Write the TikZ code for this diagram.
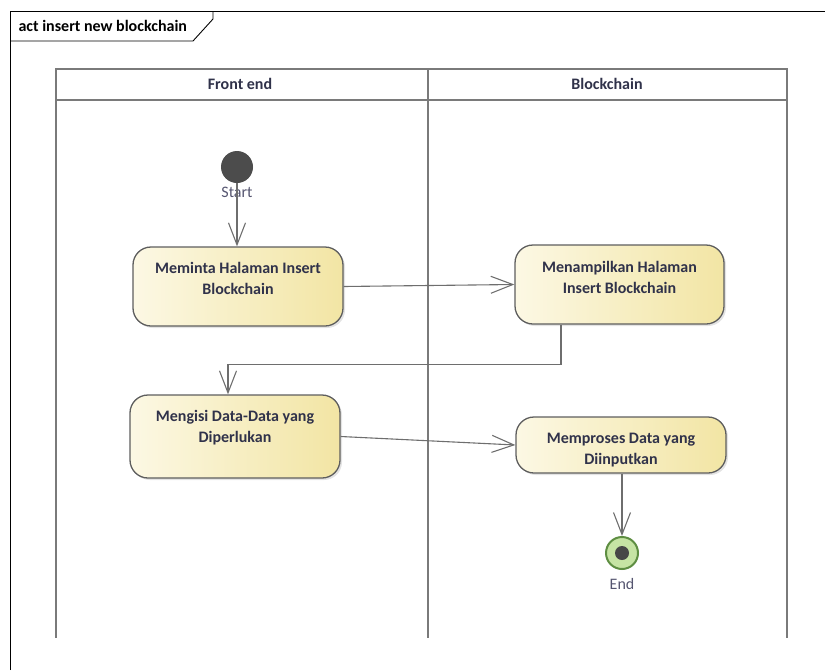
\documentclass[tikz,border=0pt]{standalone}
\usepackage{fontspec}
\setmainfont{Carlito}
\usetikzlibrary{arrows.meta,shadows}
\definecolor{fillL}{HTML}{FCF8E4}
\definecolor{fillR}{HTML}{F2E5A4}
\definecolor{boxborder}{HTML}{5E5E5E}
\definecolor{textcol}{HTML}{30324A}
\definecolor{flowgray}{HTML}{6E6E6E}
\definecolor{lanegray}{HTML}{7A7A7A}
\definecolor{labelcol}{HTML}{555570}
\definecolor{endfill}{HTML}{C6E4A4}
\definecolor{endring}{HTML}{5E8E42}
\begin{document}
\begin{tikzpicture}[x=1pt,y=-1pt,
  lane/.style={draw=lanegray,line width=2.6pt},
  bold/.style={font=\bfseries\fontsize{16}{21}\selectfont},
  action/.style={draw=boxborder, line width=1.3pt, rounded corners=18pt,
    left color=fillL, right color=fillR, inner sep=0pt,
    drop shadow={opacity=0.22, shadow xshift=2pt, shadow yshift=-2pt}},
  acttext/.style={bold, text=textcol, align=center},
  flow/.style={draw=flowgray, line width=1.1pt,
    -{Straight Barb[length=22pt, width=17pt, line width=1.1pt]}},
  nodelabel/.style={font=\fontsize{16}{18}\selectfont, text=labelcol}]
\useasboundingbox (0,0) rectangle (825,670);

% diagram frame with name tab
\draw[line width=0.9pt] (10,670) -- (10,11) -- (825,11);
\draw[line width=0.9pt] (213,11) -- (213,19) -- (193,41) -- (10,41);
\node[bold, anchor=west, text=black] (title) at (15,26) {act insert new blockchain};

% swimlanes
\draw[lane] (56,69) rectangle (787,100);
\draw[lane] (56,100) -- (56,638);
\draw[lane] (428,69) -- (428,638);
\draw[lane] (787,100) -- (787,638);
\node[bold, text=textcol] (laneA) at (240,84) {Front end};
\node[bold, text=textcol] (laneB) at (607,84) {Blockchain};

% initial node
\fill[fill=black!70] (237,167) circle (16);
\coordinate (start) at (237,183);
\node[nodelabel] (startlbl) at (237,192) {Start};

% actions
\node[action, minimum width=210, minimum height=79,
  label={[acttext, yshift=8pt]center:Meminta Halaman Insert\\Blockchain}]
  (a1) at (238,286.5) {};
\node[action, minimum width=209, minimum height=79,
  label={[acttext, yshift=7pt]center:Menampilkan Halaman\\Insert Blockchain}]
  (a2) at (619.5,284.5) {};
\node[action, minimum width=210, minimum height=83,
  label={[acttext, yshift=9pt]center:Mengisi Data-Data yang\\Diperlukan}]
  (a3) at (235,436.5) {};
\node[action, minimum width=210, minimum height=56,
  label={[acttext, yshift=-5pt]center:Memproses Data yang\\Diinputkan}]
  (a4) at (621,445) {};

% final node
\node[circle, draw=endring, line width=2pt, fill=endfill,
  minimum size=32, inner sep=0pt] (end) at (622,553) {};
\fill[black!72] (end.center) circle (7);
\node[nodelabel] (endlbl) at (622,584) {End};

% control flows
\draw[flow] (start) -- (start |- a1.north);
\draw[flow] (a1.east) -- (a2.west);
\draw[flow] ([xshift=-58.5pt]a2.south) -- ++(0,40) -| ([xshift=-7pt]a3.north);
\draw[flow] (a3.east) -- (a4.west);
\draw[flow] (a4.south -| end) -- (end.north);
\end{tikzpicture}
\end{document}
